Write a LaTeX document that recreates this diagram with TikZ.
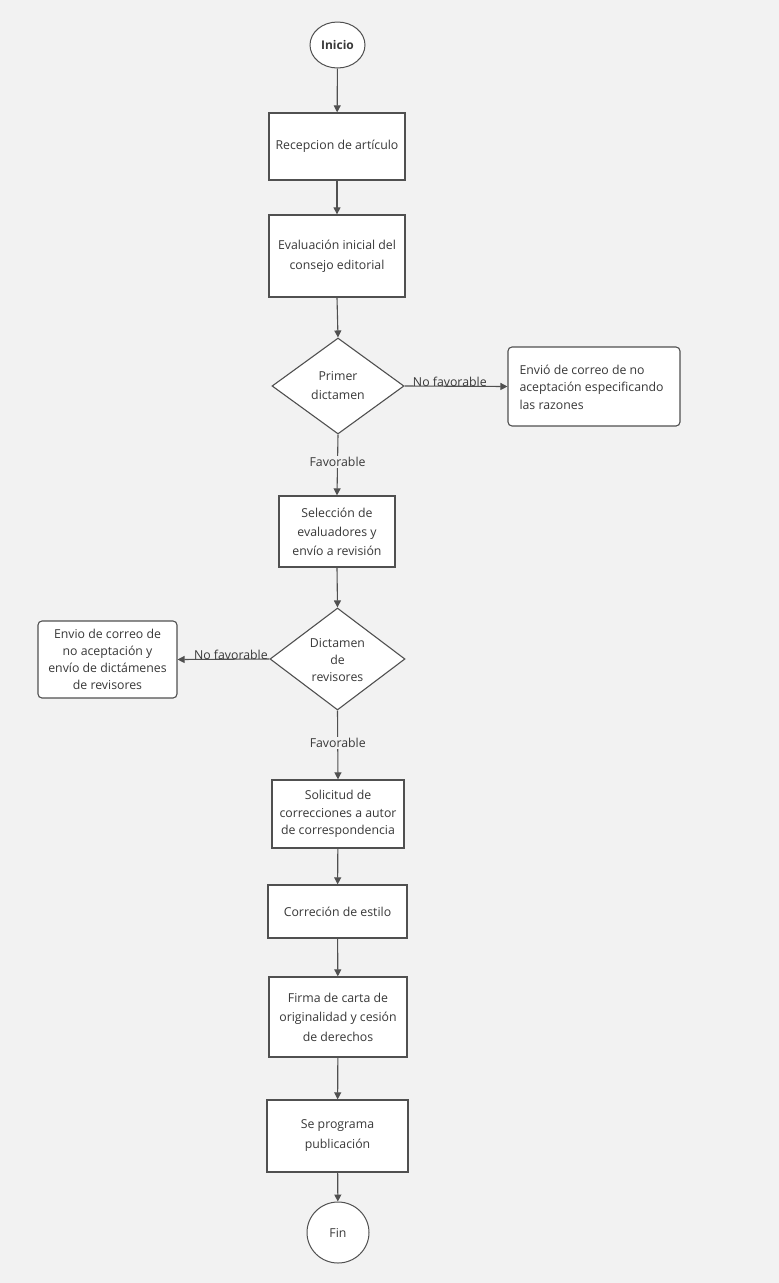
\documentclass[tikz,border=0pt]{standalone}
\usepackage{fontspec}
\setmainfont{Open Sans}
\usetikzlibrary{shapes.geometric,arrows.meta}
\definecolor{bgc}{HTML}{F2F2F2}
\definecolor{linec}{HTML}{505050}
\definecolor{txtc}{HTML}{383838}
\begin{document}
\begin{tikzpicture}[x=1pt,y=-1pt,
  every node/.style={font=\fontsize{12.3}{19}\selectfont, text=txtc},
  proc/.style={draw=linec, line width=1.3pt, fill=white, align=center, inner sep=0pt},
  rproc/.style={proc, line width=1.1pt, rounded corners=4pt},
  dec/.style={diamond, draw=linec, line width=1.1pt, fill=white, align=center, inner sep=0pt, aspect=1},
  term/.style={ellipse, draw=linec, line width=1pt, fill=white, inner sep=0pt},
  flow/.style={draw=linec, line width=1.1pt, -{Triangle[length=7pt,width=7pt]}},
  lbl/.style={fill=bgc, inner sep=1pt}
]
\fill[bgc] (0,0) rectangle (779,1283);
\useasboundingbox (0,0) rectangle (779,1283);

\node[term, minimum width=55pt, minimum height=46pt, font=\fontsize{12}{13}\selectfont\bfseries] (inicio) at (337.5,45) {Inicio};
\node[proc, minimum width=136pt, minimum height=67pt] (recep) at (337,146.5) {Recepcion de artículo};
\node[proc, minimum width=136pt, minimum height=82pt, font=\fontsize{12.3}{20}\selectfont] (eval) at (337,256) {Evaluación inicial del\\consejo editorial};
\node[dec, minimum width=132pt, minimum height=96pt] (d1) at (338,386) {};
\node at (338,386) [align=center] {Primer\\dictamen};
\node[rproc, minimum width=172pt, minimum height=79pt] (rech1) at (594,386.5) {};
\node[align=left, anchor=west, font=\fontsize{12.3}{17.5}\selectfont] at (516,387) {Envió de correo de no\\aceptación especificando\\las razones};
\node[proc, minimum width=116pt, minimum height=71pt, font=\fontsize{12.3}{19}\selectfont] (selec) at (337,531.5) {Selección de\\evaluadores y\\envío a revisión};
\node[dec, minimum width=135pt, minimum height=102pt] (d2) at (337.5,659) {};
\node at (337.5,660) [align=center, font=\fontsize{12.3}{17}\selectfont] {Dictamen\\de\\revisores};
\node[rproc, minimum width=139pt, minimum height=77pt, font=\fontsize{12.3}{17}\selectfont] (rech2) at (107.5,659.5) {Envio de correo de\\no aceptación y\\envío de dictámenes\\de revisores};
\node[proc, minimum width=132pt, minimum height=68pt, font=\fontsize{12.3}{17.5}\selectfont] (solic) at (338,814) {Solicitud de\\correcciones a autor\\de correspondencia};
\node[proc, minimum width=139pt, minimum height=53pt] (estilo) at (337.5,911.5) {Correción de estilo};
\node[proc, minimum width=138pt, minimum height=80pt, font=\fontsize{12.3}{19.5}\selectfont] (firma) at (338,1017) {Firma de carta de\\originalidad y cesión\\de derechos};
\node[proc, minimum width=141pt, minimum height=72pt, font=\fontsize{12.3}{20}\selectfont] (prog) at (337.5,1136) {Se programa\\publicación};
\node[term, minimum width=62pt, minimum height=61pt] (fin) at (338,1232.5) {Fin};

\draw[flow] (inicio) -- (recep);
\draw[flow] (recep) -- (eval);
\draw[flow] (eval.south) -- (d1.north);
\draw[flow] (d1.east) -- node[pos=0.44, above=-1.5pt, inner sep=1pt] {No favorable} (rech1.west);
\draw[flow] (d1.south) -- node[lbl, pos=0.45] {Favorable} (selec.north);
\draw[flow] (selec.south) -- (d2.north);
\draw[flow] (d2.west) -- node[pos=0.42, above=-1.5pt, inner sep=1pt] {No favorable} (rech2.east);
\draw[flow] (d2.south) -- node[lbl, pos=0.47] {Favorable} (solic.north);
\draw[flow] (solic) -- (estilo);
\draw[flow] (estilo) -- (firma);
\draw[flow] (firma) -- (prog);
\draw[flow] (prog) -- (fin);
\end{tikzpicture}
\end{document}
